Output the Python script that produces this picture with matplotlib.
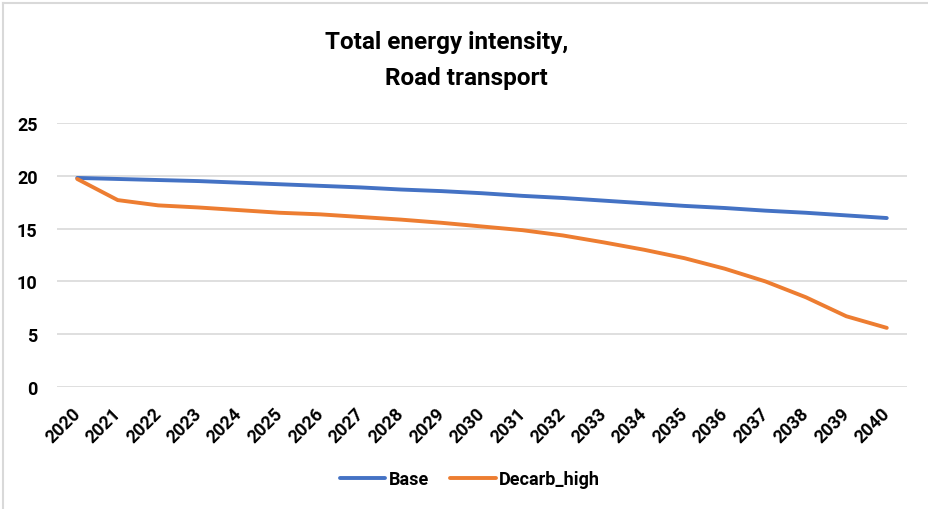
import matplotlib.pyplot as plt
import matplotlib.transforms as mtransforms
from matplotlib.lines import Line2D

plt.rcParams['font.family'] = ['Roboto', 'DejaVu Sans']

years = [str(y) for y in range(2020, 2041)]
base = [19.8, 19.7, 19.6, 19.5, 19.35, 19.2, 19.05, 18.9, 18.7, 18.55, 18.35,
        18.1, 17.9, 17.65, 17.4, 17.15, 16.95, 16.7, 16.5, 16.25, 16.0]
decarb_high = [19.7, 17.7, 17.2, 17.0, 16.75, 16.5, 16.35, 16.1, 15.85, 15.55, 15.2,
               14.85, 14.35, 13.7, 13.0, 12.2, 11.2, 10.0, 8.5, 6.7, 5.6]
yticks = [0, 5, 10, 15, 20, 25]

fig = plt.figure(figsize=(9.29, 5.10), dpi=100)
ax = fig.add_axes([57 / 929, 1 - 388 / 510, 850 / 929, 264 / 510])

x = range(len(years))
ax.plot(x, base, color='#4472C4', lw=2.8, label='Base', solid_capstyle='round')
ax.plot(x, decarb_high, color='#ED7D31', lw=2.8, label='Decarb_high', solid_capstyle='round')

ax.set_xlim(-0.5, len(years) - 0.5)
ax.set_ylim(0, 25)
ax.set_yticks(yticks)
ax.set_xticks(list(x))
ax.set_xticklabels(years, rotation=45, ha='right', rotation_mode='anchor')
ax.tick_params(axis='both', length=0, labelsize=13)
ax.tick_params(axis='y', pad=14)
ax.tick_params(axis='x', pad=12)
shift = mtransforms.ScaledTranslation(-6 / 100, 0, fig.dpi_scale_trans)
for lab in ax.get_xticklabels():
    lab.set_fontweight('bold')
    lab.set_transform(lab.get_transform() + shift)
for lab in ax.get_yticklabels():
    lab.set_fontweight('bold')
ax.grid(axis='y', color='#D9D9D9', lw=1.2)
ax.set_axisbelow(True)
for s in ax.spines.values():
    s.set_visible(False)

# title lines are not centred on the same point in the original
fig.text(447 / 929, 1 - 42 / 510, 'Total energy intensity,', ha='center', va='center',
         fontsize=17.5, fontweight='bold')
fig.text(466 / 929, 1 - 79 / 510, 'Road transport', ha='center', va='center',
         fontsize=17.5, fontweight='bold')

leg = fig.legend(loc='center', bbox_to_anchor=(470 / 929, 1 - 480 / 510), ncol=2, frameon=False,
                 prop={'weight': 'bold', 'size': 13}, handlelength=2.5, handletextpad=0.2,
                 columnspacing=1.2)

# light frame on the top and left edge
fig.add_artist(Line2D([3 / 929, 1], [1 - 3.5 / 510, 1 - 3.5 / 510], transform=fig.transFigure,
                      color='#D9D9D9', lw=1.5))
fig.add_artist(Line2D([3 / 929, 3 / 929], [0, 1 - 3.5 / 510], transform=fig.transFigure,
                      color='#D9D9D9', lw=1.5))

fig.savefig('out.png', dpi=100)
